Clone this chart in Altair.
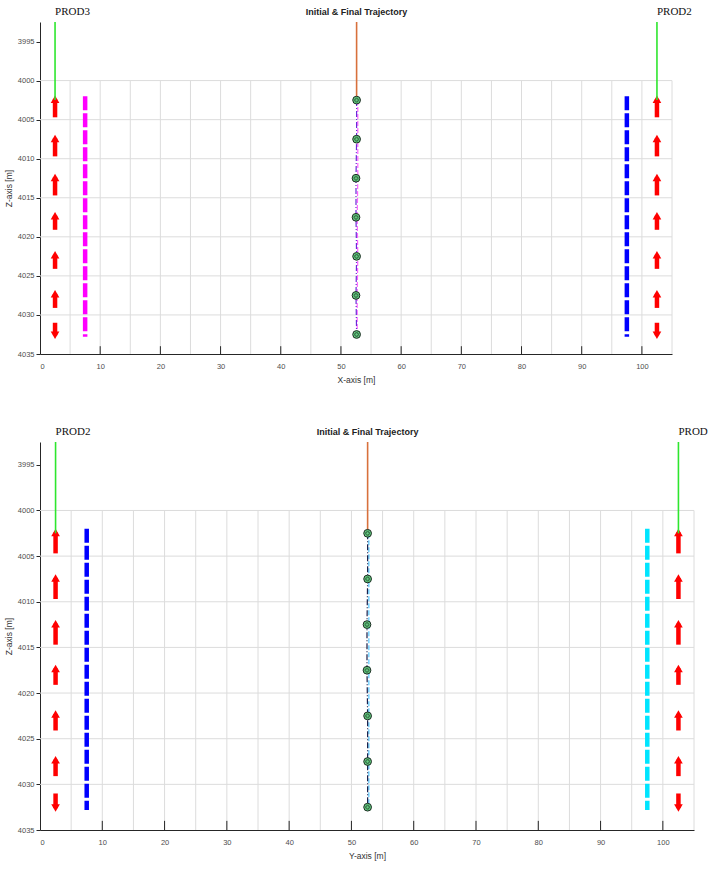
import altair as alt
import pandas as pd

# ---------------- data ----------------
x_tick_values = [0, 10, 20, 30, 40, 50, 60, 70, 80, 90, 100]
inner_tick_values = [10, 20, 30, 40, 50, 60, 70, 80, 90, 100]
z_tick_values = [3995, 4000, 4005, 4010, 4015, 4020, 4025, 4030, 4035]
grid_x = [5, 10, 15, 20, 25, 30, 35, 40, 45, 50, 55, 60, 65, 70, 75, 80, 85, 90, 95, 100, 105]
grid_z = [4000, 4005, 4010, 4015, 4020, 4025, 4030]

# producer arrows (x = 2.5 and x = 102.5)
producer_x = [2.5, 102.5]
arrow_head_z = [4002.4, 4007.4, 4012.4, 4017.3, 4022.3, 4027.3, 4032.6]
arrow_tail_z = [4004.7, 4009.7, 4014.7, 4019.1, 4024.1, 4029.1, 4031.0]
arrow_shape = ["triangle-up"] * 6 + ["triangle-down"]

# injector wells (dashed thick lines)
injector_x = [7.5, 97.5]
injector_top = 4002.0
injector_bottom = 4032.8

# well heads (vertical lines to surface)
surface_z = 3992.5
wellhead_z = 4002.5

# trajectory
traj_z = [4002.5, 4007.5, 4012.5, 4017.5, 4022.5, 4027.5, 4032.5]
top_initial_x = [52.8, 52.8, 52.8, 52.7, 52.8, 52.7, 52.7]
top_final_x = [52.6, 52.6, 52.5, 52.5, 52.6, 52.5, 52.6]
bot_initial_x = [52.8, 52.8, 52.8, 52.8, 52.8, 52.8, 52.8]
bot_final_x = [52.6, 52.6, 52.5, 52.5, 52.6, 52.6, 52.6]
traj_head_x = 52.6

panels = [
    dict(left_label="PROD3", right_label="PROD2", left_inj="#ff00ff", right_inj="#0000ff",
         init_color="#ff66ff", final_color="#6a2bd9", init_x=top_initial_x, final_x=top_final_x,
         xtitle="X-axis [m]", width=632, height=332, right_limit=0),
    dict(left_label="PROD2", right_label="PROD3", left_inj="#0000ff", right_inj="#00e5ff",
         init_color="#55c8ff", final_color="#1b1f4a", init_x=bot_initial_x, final_x=bot_final_x,
         xtitle="Y-axis [m]", width=654, height=388, right_limit=34),
]

XS = alt.Scale(domain=[0, 105], nice=False, zero=False)
ZS = alt.Scale(domain=[surface_z, 4035], reverse=True, nice=False, zero=False)

GRID = "#dcdcdc"
DARK = "#262626"
AX = dict(labelFont="Liberation Sans", labelFontSize=7.5, labelColor="#4d4d4d",
          titleFont="Liberation Sans", titleFontSize=8.5, titleColor="#333333",
          titleFontWeight="normal", domainColor=DARK)


def make_panel(p):
    xaxis = alt.Axis(values=x_tick_values, grid=False, ticks=False, title=p["xtitle"],
                     labelPadding=8, format="d", titlePadding=6, **AX)
    zaxis = alt.Axis(values=z_tick_values, grid=False, ticks=True, tickSize=4, tickColor=DARK,
                     title="Z-axis [m]", labelPadding=2, format="d", titlePadding=4, **AX)

    vgrid = alt.Chart(pd.DataFrame({"x": grid_x})).mark_rule(color=GRID, strokeWidth=1).encode(
        x=alt.X("x:Q", scale=XS, axis=xaxis),
        y=alt.Y("a:Q", scale=ZS, axis=zaxis),
        y2="b:Q",
    ).transform_calculate(a="4000", b="4035")

    hgrid = alt.Chart(pd.DataFrame({"z": grid_z})).mark_rule(color=GRID, strokeWidth=1).encode(
        y=alt.Y("z:Q"),
        x=alt.datum(0),
        x2=alt.datum(105),
    )

    inner_ticks = alt.Chart(pd.DataFrame({"x": inner_tick_values})).mark_rule(color=DARK, strokeWidth=1).encode(
        x="x:Q", y=alt.datum(4035), y2=alt.datum(4034)
    )

    # injector dashed lines
    inj_df = pd.DataFrame({"x": injector_x, "c": [p["left_inj"], p["right_inj"]]})
    inj = alt.Chart(inj_df).mark_rule(strokeWidth=4.5, strokeDash=[14, 3]).encode(
        x="x:Q", y=alt.datum(injector_top), y2=alt.datum(injector_bottom),
        color=alt.Color("c:N", scale=None),
    )

    # producer arrows
    rows = []
    for px in producer_x:
        for h, t, s in zip(arrow_head_z, arrow_tail_z, arrow_shape):
            rows.append({"x": px, "h": h, "t": t, "s": s})
    adf = pd.DataFrame(rows)
    shafts = alt.Chart(adf).mark_rule(color="#ff0000", strokeWidth=4.5).encode(
        x="x:Q", y="h:Q", y2="t:Q"
    )
    heads = alt.Chart(adf).mark_point(filled=True, color="#ff0000", size=75, opacity=1).encode(
        x="x:Q", y="h:Q", shape=alt.Shape("s:N", scale=None)
    )

    # wellhead lines to surface
    wl_df = pd.DataFrame({"x": producer_x})
    wells = alt.Chart(wl_df).mark_rule(color="#2ee62e", strokeWidth=1.6).encode(
        x="x:Q", y=alt.datum(surface_z), y2=alt.datum(wellhead_z)
    )
    orange = alt.Chart(pd.DataFrame({"x": [traj_head_x]})).mark_rule(color="#d8703c", strokeWidth=1.6).encode(
        x="x:Q", y=alt.datum(surface_z), y2=alt.datum(traj_z[0])
    )

    # trajectories
    tdf = pd.DataFrame({"z": traj_z, "xi": p["init_x"], "xf": p["final_x"]})
    init_line = alt.Chart(tdf).mark_line(color=p["init_color"], strokeWidth=1.2, strokeDash=[5, 2]).encode(
        x="xi:Q", y="z:Q", order="z:Q"
    )
    final_line = alt.Chart(tdf).mark_line(color=p["final_color"], strokeWidth=1.2, strokeDash=[6, 2, 1, 2]).encode(
        x="xf:Q", y="z:Q", order="z:Q"
    )
    pts = alt.Chart(tdf).mark_point(filled=True, fill="#62cf80", stroke="#1f2a24", strokeWidth=1,
                                    size=60, opacity=1, shape="circle").encode(
        x="xf:Q", y="z:Q"
    )
    crosses = alt.Chart(tdf).mark_point(shape="cross", color="#1f2a24", size=16, strokeWidth=0.8).encode(
        x="xf:Q", y="z:Q"
    )

    # labels
    left_lbl = alt.Chart(pd.DataFrame({"x": [producer_x[0]], "t": [p["left_label"]]})).mark_text(
        font="Liberation Serif", fontSize=11, color="#111111",
        align="left", baseline="bottom", dy=-5).encode(
        x="x:Q", y=alt.datum(surface_z), text="t:N"
    )
    rkw = dict(font="Liberation Serif", fontSize=11, color="#111111",
               align="left", baseline="bottom", dy=-5)
    if p["right_limit"]:
        rkw.update(limit=p["right_limit"], ellipsis=" ")
    right_lbl = alt.Chart(pd.DataFrame({"x": [producer_x[1]], "t": [p["right_label"]]})).mark_text(**rkw).encode(
        x="x:Q", y=alt.datum(surface_z), text="t:N"
    )
    title = alt.Chart(pd.DataFrame({"x": [traj_head_x], "t": ["Initial & Final Trajectory"]})).mark_text(
        font="Liberation Sans", fontSize=9, fontWeight="bold", color="#222222",
        align="center", baseline="bottom", dy=-5).encode(
        x="x:Q", y=alt.datum(surface_z), text="t:N"
    )

    return alt.layer(vgrid, hgrid, inner_ticks, inj, shafts, heads, wells, orange,
                     init_line, final_line, pts, crosses, left_lbl, right_lbl, title).properties(
        width=p["width"], height=p["height"]
    )


chart = alt.vconcat(*[make_panel(p) for p in panels], spacing=42).properties(
    padding={"left": 4, "top": 6, "right": 0, "bottom": 4}
).configure_view(stroke=None)

chart.save("out.html", embed_options={"renderer": "svg", "actions": False})
